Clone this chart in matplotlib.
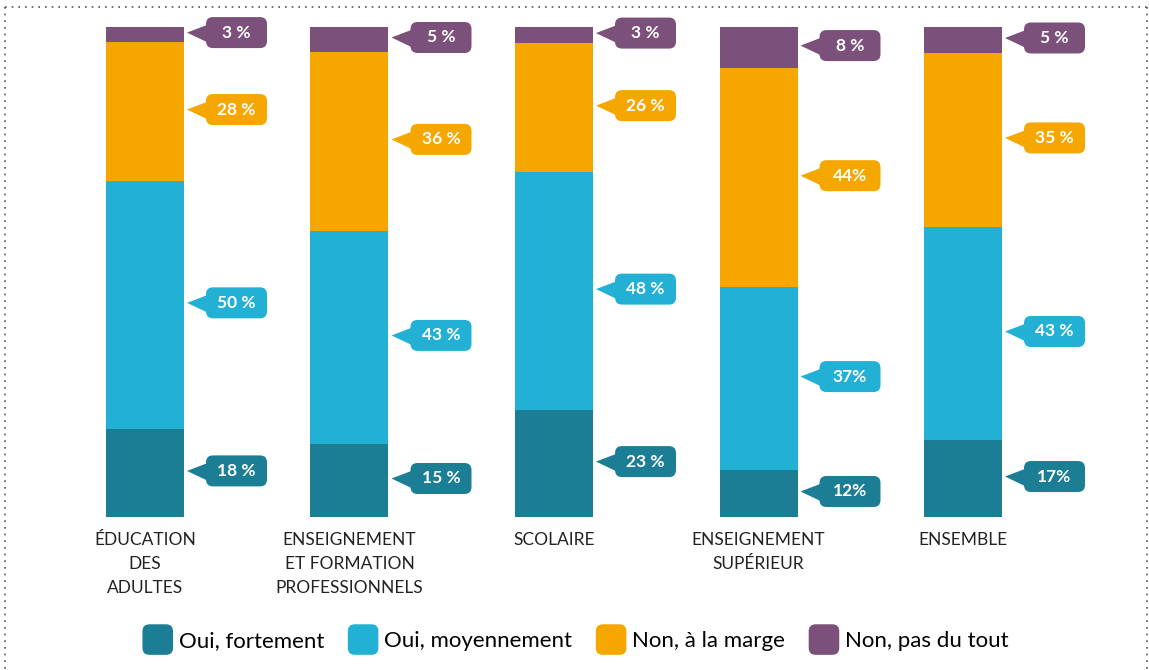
import matplotlib
matplotlib.use("Agg")
import matplotlib.pyplot as plt
from matplotlib.patches import FancyBboxPatch, Polygon, Patch
from matplotlib.lines import Line2D
from matplotlib.legend_handler import HandlerPatch
import numpy as np

categories = ["ÉDUCATION\nDES\nADULTES",
              "ENSEIGNEMENT\nET FORMATION\nPROFESSIONNELS",
              "SCOLAIRE",
              "ENSEIGNEMENT\nSUPÉRIEUR",
              "ENSEMBLE"]
series_names = ["Oui, fortement", "Oui, moyennement", "Non, à la marge", "Non, pas du tout"]
# bar heights as drawn in the picture (percent)
oui_fortement = [18.0, 14.9, 21.8, 9.6, 15.7]
oui_moyennement = [50.6, 43.5, 48.6, 37.3, 43.5]
non_marge = [28.3, 36.5, 26.3, 44.7, 35.5]
non_pas_du_tout = [3.1, 5.1, 3.3, 8.4, 5.3]
# printed labels
label_texts = [
    ["18 %", "15 %", "23 %", "12%", "17%"],
    ["50 %", "43 %", "48 %", "37%", "43 %"],
    ["28 %", "36 %", "26 %", "44%", "35 %"],
    ["3 %", "5 %", "3 %", "8 %", "5 %"],
]
colors = ["#1C7E94", "#22B1D5", "#F5A700", "#7B507A"]

W, H = 1149, 670
fig = plt.figure(figsize=(W / 100, H / 100), dpi=100)
ax = fig.add_axes([0, 0, 1, 1])
dx = (963 - 145) / 4
dy = (517 - 27) / 100
ax.set_xlim(-145 / dx, (W - 145) / dx)
ax.set_ylim(-(H - 517) / dy, 517 / dy)
ax.axis("off")

series = np.array([oui_fortement, oui_moyennement, non_marge, non_pas_du_tout], dtype=float)
totals = series.sum(axis=0)
norm = series / totals * 100
x = np.arange(len(categories))
bw = 78 / dx
bottom = np.zeros(len(categories))
for i in range(4):
    ax.bar(x, norm[i], bw, bottom=bottom, color=colors[i], linewidth=0)
    for j in range(len(categories)):
        mid = bottom[j] + norm[i][j] / 2
        px, py = ax.transData.transform((x[j] + bw / 2, mid))
        py += 2
        tip_x = px + 3
        bx = tip_x + 19
        bwid, bht = 61, 31
        box = FancyBboxPatch((bx, py - bht / 2), bwid, bht,
                             boxstyle="round,pad=0,rounding_size=7",
                             transform=None, facecolor=colors[i], edgecolor="none", zorder=5)
        fig.patches.append(box)
        tri = Polygon([(tip_x, py), (bx + 2, py + 8), (bx + 2, py - 10)], closed=True,
                      transform=None, facecolor=colors[i], edgecolor="none", zorder=5)
        fig.patches.append(tri)
        fig.text((bx + bwid / 2) / W, py / H, label_texts[i][j], color="white",
                 fontsize=12.5, fontweight="bold", family="Lato",
                 ha="center", va="center", zorder=6)
    bottom += norm[i]

for j, c in enumerate(categories):
    ax.text(x[j], -(532 - 517) / dy, c, ha="center", va="top", fontsize=12.5,
            family="Lato", color="#222222", linespacing=1.62)


# legend with rounded square markers
def make_rounded(legend, orig_handle, xdescent, ydescent, width, height, fontsize):
    s = 22.0
    cx = -xdescent + width / 2
    cy = -ydescent + height / 2
    return FancyBboxPatch((cx - s / 2, cy - s / 2), s, s,
                          boxstyle="round,pad=0,rounding_size=5")


handles = [Patch(facecolor=colors[i], edgecolor="none") for i in range(4)]
fig.legend(handles, series_names, loc="center", bbox_to_anchor=(576 / W, 1 - 640 / H),
           ncol=4, frameon=False, handletextpad=0.3, columnspacing=1.1,
           handlelength=1.3, handleheight=1.1,
           handler_map={Patch: HandlerPatch(patch_func=make_rounded)},
           prop={"family": "Lato", "size": 16})

# dotted border
for xs, ys in [([5, 5], [7, H]), ([5, 1147], [7, 7]), ([1147, 1147], [7, H])]:
    fig.add_artist(Line2D([v / W for v in xs], [1 - v / H for v in ys],
                          color="#555555", linestyle=(0, (1, 3)), linewidth=1.2))

fig.savefig("out.png", dpi=100)
